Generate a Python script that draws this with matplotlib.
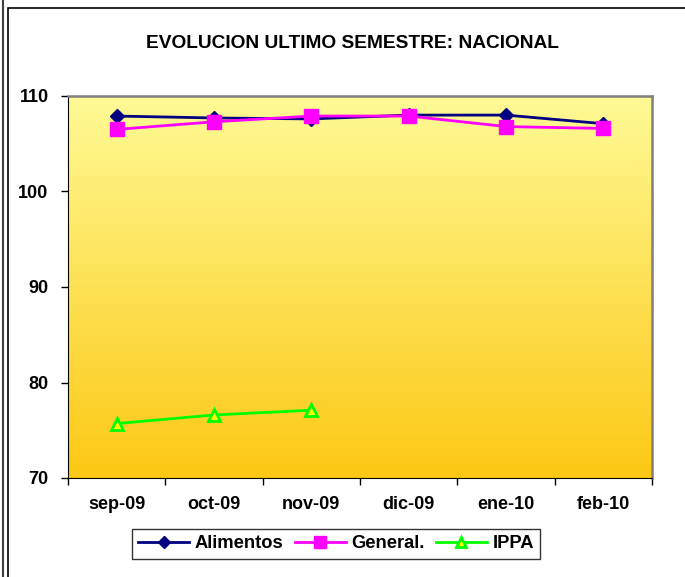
import numpy as np
import matplotlib
matplotlib.use('Agg')
import matplotlib.pyplot as plt
from matplotlib.colors import LinearSegmentedColormap
from matplotlib.patches import Rectangle
from matplotlib.lines import Line2D

plt.rcParams['font.family'] = ['Liberation Sans', 'DejaVu Sans']
plt.rcParams['font.weight'] = 'bold'

# datos
meses = ['sep-09', 'oct-09', 'nov-09', 'dic-09', 'ene-10', 'feb-10']
alimentos = [107.9, 107.7, 107.6, 108.0, 108.0, 107.1]
general = [106.5, 107.3, 107.9, 107.9, 106.8, 106.6]
ippa = [75.7, 76.6, 77.1]

fig = plt.figure(figsize=(6.85, 5.77), dpi=100)
ax = fig.add_axes([68/685, 1-478/577, 584/685, 382/577])

# fondo degradado
cmap = LinearSegmentedColormap.from_list('fondo', ['#FFFA96', '#FCC814'])
grad = np.linspace(0, 1, 256).reshape(-1, 1)
ax.imshow(grad, aspect='auto', cmap=cmap, extent=[0, 6, 70, 110],
          origin='upper', zorder=0)

x = np.arange(len(meses)) + 0.5
ax.plot(x, alimentos, color='#000080', lw=2, marker='D', ms=7,
        mfc='#000080', mec='#000080', zorder=3, label='Alimentos')
ax.plot(x, general, color='#FF00FF', lw=2, marker='s', ms=10,
        mfc='#FF00FF', mec='#FF00FF', zorder=4, label='General.')
ax.plot(x[:len(ippa)], ippa, color='#00FF00', lw=2, marker='^', ms=8,
        mfc='#FFFF00', mec='#00FF00', mew=2, zorder=5, label='IPPA')

ax.set_xlim(0, 6)
ax.set_ylim(70, 110)
ax.set_yticks([70, 80, 90, 100, 110])
ax.set_xticks(np.arange(7))
ax.set_xticklabels([])
ax.set_xticks(x, minor=True)
ax.set_xticklabels(meses, minor=True)
ax.tick_params(axis='x', which='minor', length=0, pad=13, labelsize=13)
ax.tick_params(axis='x', which='major', length=5, width=1, direction='out')
ax.tick_params(axis='y', length=5, width=1, direction='out', labelsize=13, pad=9)
for lbl in ax.get_yticklabels() + ax.get_xticklabels(minor=True):
    lbl.set_fontweight('bold')

ax.spines['left'].set_color('black')
ax.spines['bottom'].set_color('black')
ax.spines['top'].set_color('#808080')
ax.spines['right'].set_color('#808080')
ax.spines['top'].set_linewidth(1.8)
ax.spines['right'].set_linewidth(1.8)

fig.text(352/685, 1-44/577, 'EVOLUCION ULTIMO SEMESTRE: NACIONAL',
         ha='center', va='center', fontsize=13.8, fontweight='bold')

leg = fig.legend(loc='center', bbox_to_anchor=(336/685, 1-544/577), ncol=3,
                 frameon=True, fancybox=False, edgecolor='black',
                 prop={'weight': 'bold', 'size': 13.2}, handlelength=2.8,
                 handletextpad=0.3, columnspacing=0.6, borderpad=0.35,
                 markerscale=0.85)
leg.get_frame().set_linewidth(1)

# marcos exteriores
fig.patches.append(Rectangle((8/685, -0.01), 1, 1-8/577+0.01, transform=fig.transFigure,
                             fill=False, edgecolor='black', lw=1.2))
fig.lines.append(Line2D([2.5/685, 2.5/685], [0, 1], transform=fig.transFigure,
                        color='#404040', lw=1.5))

fig.savefig('out.png', dpi=100)
